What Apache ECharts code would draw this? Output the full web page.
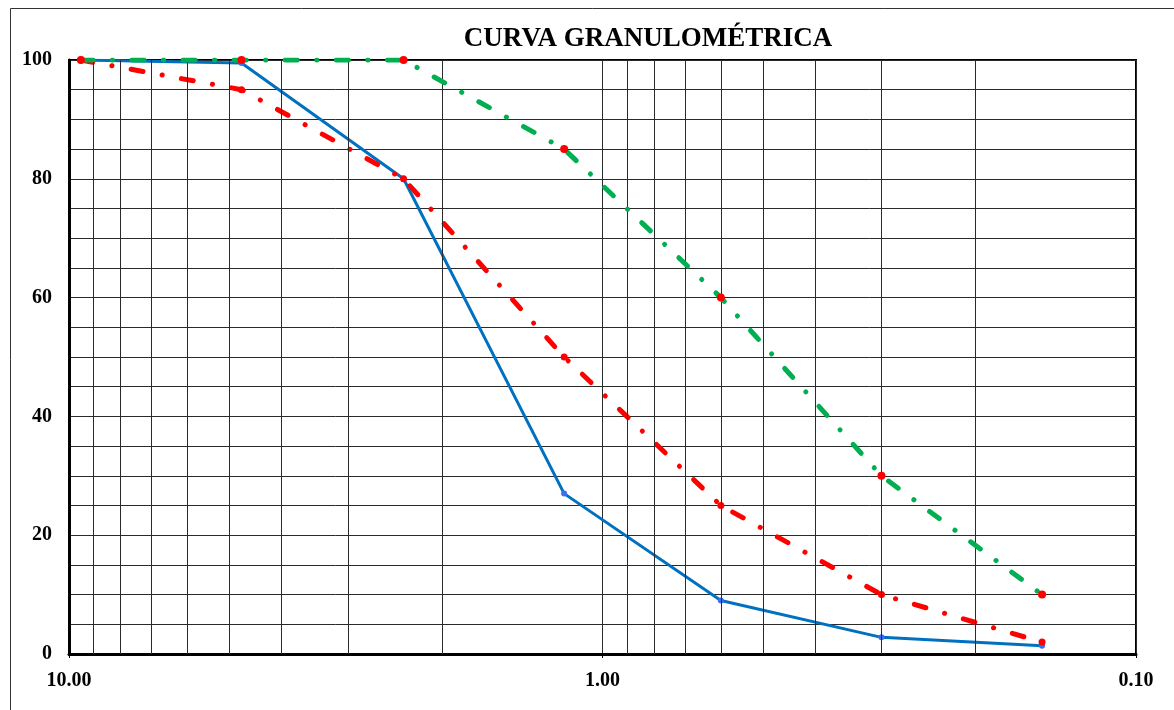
<!DOCTYPE html>
<html>
<head>
<meta charset="utf-8">
<script src="https://cdn.jsdelivr.net/npm/echarts@6/dist/echarts.min.js"></script>
<style>
html,body{margin:0;padding:0;background:#fff;}
#chart{width:1174px;height:710px;}
</style>
</head>
<body>
<div id="chart"></div>
<script>
// Sieve opening sizes (mm)
var sizes = [9.5, 4.75, 2.36, 1.18, 0.6, 0.3, 0.15];
// % passing for each curve
var blueCurve  = [100, 99.5, 80, 27, 9, 2.8, 1.4];
var redCurve   = [100, 95, 80, 50, 25, 10, 2];
var greenCurve = [100, 100, 100, 85, 60, 30, 10];
// minor vertical grid values on the log axis
var minorX = [9, 8, 7, 6, 5, 4, 3, 2, 0.9, 0.8, 0.7, 0.6, 0.5, 0.4, 0.3, 0.2];
var yTicks = [0, 20, 40, 60, 80, 100];
var title = 'CURVA GRANULOMÉTRICA';

var FONT = '"Liberation Serif", "Times New Roman", serif';
var GRIDC = '#2a2a2a';

function pairs(vals){ return sizes.map(function(s,i){ return [s, vals[i]]; }); }

var dashPattern = [12, 19.5, 0.1, 19.5];

var chart = echarts.init(document.getElementById('chart'), null, {renderer:'canvas'});
chart.setOption({
  backgroundColor: '#fff',
  animation: false,
  graphic: [{
    type: 'rect',
    shape: {x: 10.5, y: 8.5, width: 1300, height: 900},
    style: {fill: 'none', stroke: '#333', lineWidth: 1},
    silent: true, z: 0
  }],
  title: {
    text: title,
    left: 648, top: 26, padding: 0,
    textAlign: 'center',
    textStyle: {fontFamily: FONT, fontWeight: 'bold', fontSize: 27, color: '#000'}
  },
  grid: {
    left: 69, right: 38, top: 60, bottom: 56,
    show: true, borderColor: '#000', borderWidth: 2, backgroundColor: 'transparent'
  },
  xAxis: {
    type: 'log', logBase: 10, min: 0.1, max: 10, inverse: true,
    axisLine: {show: true, onZero: false, lineStyle: {color: '#000', width: 3}},
    axisTick: {show: true, length: 4, lineStyle: {color: '#000', width: 1}},
    axisLabel: {
      margin: 17, color: '#000', fontFamily: FONT, fontWeight: 'bold', fontSize: 20,
      formatter: function(v){ return Number(v).toFixed(2); }
    },
    splitLine: {show: true, lineStyle: {color: GRIDC, width: 1}}
  },
  yAxis: {
    type: 'value', min: yTicks[0], max: yTicks[yTicks.length-1], interval: 20,
    axisLine: {show: true, lineStyle: {color: '#000', width: 3}},
    axisTick: {show: false},
    axisLabel: {margin: 17, color: '#000', fontFamily: FONT, fontWeight: 'bold', fontSize: 20},
    splitLine: {show: true, lineStyle: {color: GRIDC, width: 1}},
    minorTick: {show: false, splitNumber: 4},
    minorSplitLine: {show: true, lineStyle: {color: GRIDC, width: 1}}
  },
  series: [
    {
      type: 'line', data: [], z: 1, silent: true,
      markLine: {
        silent: true, symbol: ['none','none'], label: {show: false},
        lineStyle: {color: GRIDC, width: 1, type: 'solid'},
        animation: false,
        data: minorX.map(function(v){ return {xAxis: v}; })
      }
    },
    {
      name: 'blue', type: 'line', data: pairs(blueCurve), z: 3,
      symbol: 'circle', symbolSize: 6, showSymbol: true,
      itemStyle: {color: '#3d6ff0', borderWidth: 0},
      lineStyle: {color: '#0070C0', width: 3}
    },
    {
      name: 'red', type: 'line', data: pairs(redCurve), z: 4,
      symbol: 'circle', symbolSize: 7,
      itemStyle: {color: '#ff0000', borderWidth: 0},
      lineStyle: {color: '#ff0000', width: 5, type: dashPattern, cap: 'round'}
    },
    {
      name: 'green', type: 'line', data: pairs(greenCurve), z: 5,
      symbol: 'circle', symbolSize: 8,
      itemStyle: {color: '#ff0000', borderWidth: 0},
      lineStyle: {color: '#00b050', width: 5, type: dashPattern, cap: 'round'}
    }
  ]
});
</script>
</body>
</html>
